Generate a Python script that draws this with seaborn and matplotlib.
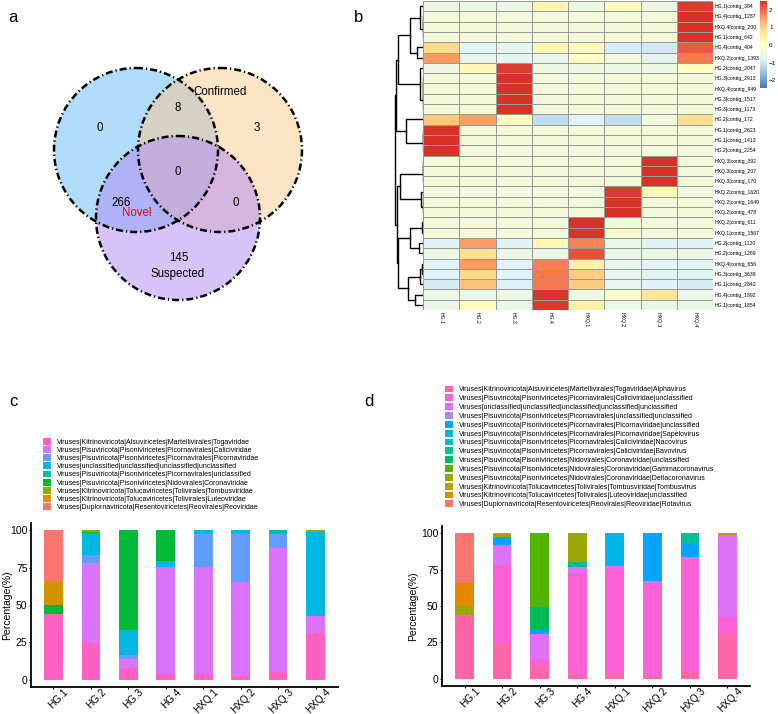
import matplotlib
matplotlib.use("Agg")
import numpy as np
import pandas as pd
import matplotlib.pyplot as plt
import matplotlib.transforms as mtrans
import seaborn as sns
from matplotlib.patches import Circle, Patch
from matplotlib.colors import LinearSegmentedColormap

plt.rcParams['font.family'] = ['Liberation Sans', 'DejaVu Sans']

W, H = 778, 714

# ---- panel a: venn counts ----
venn_counts = [0, 8, 3, 0, 266, 0, 145]
venn_pos = [(100, 128), (178, 108), (257, 128), (178, 172), (121, 203), (236, 203), (179, 258)]
venn_sets = ['', 'Confirmed', '', 'Novel', 'Suspected']

# ---- panel b: heatmap (row z-scores) ----
hm_cols = ['HG.1', 'HG.2', 'HG.3', 'HG.4', 'HXQ.1', 'HXQ.2', 'HXQ.3', 'HXQ.4']
hm_rows = ['HG.1|contig_384', 'HG.4|contig_1287', 'HXQ.4|contig_200', 'HG.1|contig_642',
           'HG.4|contig_404', 'HXQ.2|contig_1393', 'HG.2|contig_2047', 'HG.3|contig_2913',
           'HXQ.4|contig_949', 'HG.3|contig_1517', 'HG.3|contig_1173', 'HG.2|contig_172',
           'HG.1|contig_2623', 'HG.1|contig_1413', 'HG.2|contig_2254', 'HXQ.3|contig_392',
           'HXQ.3|contig_207', 'HXQ.3|contig_170', 'HXQ.2|contig_1620', 'HXQ.2|contig_1649',
           'HXQ.2|contig_478', 'HXQ.2|contig_611', 'HXQ.1|contig_1567', 'HG.2|contig_1120',
           'HG.2|contig_1269', 'HXQ.4|contig_656', 'HG.3|contig_3639', 'HG.1|contig_2842',
           'HG.4|contig_1892', 'HG.1|contig_1854']
hm_values = [
    [-0.5, -0.5, -0.5, 0.35, -0.45, 0.1, -0.5, 2.4],
    [-0.35, -0.35, -0.35, -0.35, -0.35, -0.35, -0.35, 2.47],
    [-0.35, -0.35, -0.35, -0.35, -0.35, -0.35, -0.35, 2.47],
    [-0.35, -0.35, -0.35, -0.35, -0.35, -0.35, -0.35, 2.47],
    [0.9, -0.75, -0.7, 0.3, 0.1, -0.9, -0.95, 2.1],
    [1.55, -0.6, -0.7, -0.6, 0.0, -0.4, -0.7, 1.85],
    [-0.5, 0.25, 2.4, -0.45, -0.45, -0.45, -0.45, 0.05],
    [-0.35, -0.35, 2.47, -0.35, -0.35, -0.35, -0.35, -0.35],
    [-0.35, -0.35, 2.47, -0.35, -0.35, -0.35, -0.35, -0.35],
    [-0.35, -0.35, 2.47, -0.35, -0.35, -0.35, -0.35, -0.35],
    [-0.35, -0.35, 2.47, -0.35, -0.35, -0.35, -0.35, -0.35],
    [1.1, 1.5, 0.05, -1.15, -0.8, -1.1, -0.4, 0.8],
    [2.47, -0.35, -0.35, -0.35, -0.35, -0.35, -0.35, -0.35],
    [2.47, -0.35, -0.35, -0.35, -0.35, -0.35, -0.35, -0.35],
    [2.47, -0.35, -0.35, -0.35, -0.35, -0.35, -0.35, -0.35],
    [-0.35, -0.35, -0.35, -0.35, -0.35, -0.35, 2.47, -0.35],
    [-0.35, -0.35, -0.35, -0.35, -0.35, -0.35, 2.47, -0.35],
    [-0.35, -0.35, -0.35, -0.35, -0.35, -0.35, 2.47, -0.35],
    [-0.4, -0.4, -0.4, -0.4, -0.4, 2.4, 0.15, -0.4],
    [-0.35, -0.35, -0.35, -0.35, -0.35, 2.47, -0.35, -0.35],
    [-0.35, -0.35, -0.35, -0.35, -0.35, 2.47, -0.35, -0.35],
    [-0.35, -0.35, -0.35, -0.35, 2.47, -0.35, -0.35, -0.35],
    [-0.35, -0.35, -0.35, -0.35, 2.45, -0.15, -0.35, -0.35],
    [-0.75, 1.5, -0.75, 0.25, 1.75, -0.5, -0.8, -0.8],
    [-0.5, 0.85, -0.5, -0.5, 2.2, -0.5, -0.5, -0.5],
    [-0.8, 1.55, -0.8, 1.8, 0.4, -0.65, -0.75, -0.75],
    [-0.8, 0.9, -0.8, 1.85, 1.05, -0.6, -0.75, -0.75],
    [-0.9, 1.15, -0.85, 1.85, 1.05, -0.65, -0.8, -0.9],
    [-0.5, -0.5, -0.5, 2.45, -0.45, -0.2, 0.7, -0.5],
    [-0.55, 0.05, -0.55, 2.4, 0.4, -0.5, -0.55, -0.55],
]
# row dendrogram: (left, right, height), leaves are row indices
row_tree = (
    ((((0, ((1, 2, 1), 3, 1), 10), (4, 5, 18), 40),
      (6, (((7, 8, 1), 9, 1), 10, 1), 10), 75),
     (11, ((12, 13, 1), 14, 1), 50), 80),
    ((((15, 16, 1), 17, 1), (18, (19, 20, 1), 5), 70),
     (((21, 22, 2), (23, 24, 12), 38),
      (((25, 26, 2), 27, 8), (28, 29, 25), 45), 75), 78),
    85)

# ---- panels c and d: composition ----
samples = ['HG.1', 'HG.2', 'HG.3', 'HG.4', 'HXQ.1', 'HXQ.2', 'HXQ.3', 'HXQ.4']

c_taxa = ['Viruses|Kitrinoviricota|Alsuviricetes|Martellivirales|Togaviridae',
          'Viruses|Pisuviricota|Pisoniviricetes|Picornavirales|Caliciviridae',
          'Viruses|Pisuviricota|Pisoniviricetes|Picornavirales|Picornaviridae',
          'Viruses|unclassified|unclassified|unclassified|unclassified',
          'Viruses|Pisuviricota|Pisoniviricetes|Picornavirales|unclassified',
          'Viruses|Pisuviricota|Pisoniviricetes|Nidovirales|Coronaviridae',
          'Viruses|Kitrinoviricota|Tolucaviricetes|Tolivirales|Tombusviridae',
          'Viruses|Kitrinoviricota|Tolucaviricetes|Tolivirales|Luteoviridae',
          'Viruses|Duplornaviricota|Resentoviricetes|Reovirales|Reoviridae']
c_pct = [
    [44, 24.5, 8, 3.5, 4, 2.5, 5, 31],
    [0, 53.8, 6, 72, 71.5, 63, 83.5, 11.5],
    [0, 5.5, 2.5, 0, 22, 32, 9, 0],
    [0, 14.2, 17, 4, 2.5, 2.5, 0, 56.3],
    [0, 0, 0, 0, 0, 0, 2.5, 0],
    [6, 1.0, 66.5, 20.5, 0, 0, 0, 0],
    [0, 1.0, 0, 0, 0, 0, 0, 1.2],
    [16, 0, 0, 0, 0, 0, 0, 0],
    [34, 0, 0, 0, 0, 0, 0, 0],
]
c_colors = ['#FF61C3', '#DB72FB', '#619CFF', '#00B9E3', '#00C19F',
            '#00BA38', '#93AA00', '#D39200', '#F8766D']

d_taxa = ['Viruses|Kitrinoviricota|Alsuviricetes|Martellivirales|Togaviridae|Alphavirus',
          'Viruses|Pisuviricota|Pisoniviricetes|Picornavirales|Caliciviridae|unclassified',
          'Viruses|unclassified|unclassified|unclassified|unclassified|unclassified',
          'Viruses|Pisuviricota|Pisoniviricetes|Picornavirales|unclassified|unclassified',
          'Viruses|Pisuviricota|Pisoniviricetes|Picornavirales|Picornaviridae|unclassified',
          'Viruses|Pisuviricota|Pisoniviricetes|Picornavirales|Picornaviridae|Sapelovirus',
          'Viruses|Pisuviricota|Pisoniviricetes|Picornavirales|Caliciviridae|Nacovirus',
          'Viruses|Pisuviricota|Pisoniviricetes|Picornavirales|Caliciviridae|Bavovirus',
          'Viruses|Pisuviricota|Pisoniviricetes|Nidovirales|Coronaviridae|unclassified',
          'Viruses|Pisuviricota|Pisoniviricetes|Nidovirales|Coronaviridae|Gammacoronavirus',
          'Viruses|Pisuviricota|Pisoniviricetes|Nidovirales|Coronaviridae|Deltacoronavirus',
          'Viruses|Kitrinoviricota|Tolucaviricetes|Tolivirales|Tombusviridae|Tombusvirus',
          'Viruses|Kitrinoviricota|Tolucaviricetes|Tolivirales|Luteoviridae|unclassified',
          'Viruses|Duplornaviricota|Resentoviricetes|Reovirales|Reoviridae|Rotavirus']
d_pct = [
    [44, 24.5, 8, 3.5, 4, 2.5, 5, 31],
    [0, 53.7, 5.5, 69.5, 72, 63, 77.6, 11.5],
    [0, 14, 17.5, 4, 1.8, 2, 1.4, 56],
    [0, 0, 0, 0, 0, 0, 0, 0],
    [0, 5.5, 2.5, 0, 0, 32.5, 8.7, 0],
    [0, 0, 0, 0, 22.2, 0, 0, 0],
    [0, 0, 0, 0, 0, 0, 0, 0],
    [0, 0, 0, 3, 0, 0, 7.3, 0],
    [0, 0, 15.5, 0, 0, 0, 0, 0],
    [0, 0, 51, 0, 0, 0, 0, 0],
    [6, 1.3, 0, 20, 0, 0, 0, 0],
    [0, 1.0, 0, 0, 0, 0, 0, 1.5],
    [16, 0, 0, 0, 0, 0, 0, 0],
    [34, 0, 0, 0, 0, 0, 0, 0],
]
d_colors = ['#FF66A8', '#FB61D7', '#DF70F8', '#A58AFF', '#06A4FF', '#00B6EB', '#00BFC4',
            '#00C094', '#00BC56', '#53B400', '#99A800', '#C49A00', '#E38900', '#F8766D']


def px_rect(x0, y0, x1, y1):
    return [x0 / W, 1 - y1 / H, (x1 - x0) / W, (y1 - y0) / H]


fig = plt.figure(figsize=(W / 100, H / 100), dpi=100)

# ---------------- a: venn ----------------
ax_a = fig.add_axes(px_rect(0, 0, 320, 320))
ax_a.set_xlim(0, 320)
ax_a.set_ylim(320, 0)
ax_a.axis('off')
circles = [((136, 150), '#62B9F5'), ((220, 150), '#FBCB91'), ((178, 218), '#B189F7')]
for (cx, cy), col in circles:
    ax_a.add_patch(Circle((cx, cy), 82, facecolor=col, edgecolor='none', alpha=0.5))
for (cx, cy), col in circles:
    ax_a.add_patch(Circle((cx, cy), 82, fill=False, edgecolor='black', lw=1.8,
                          linestyle=(0, (2.8, 1.2, 0.5, 1.2))))
for n, (x, y) in zip(venn_counts, venn_pos):
    ax_a.text(x, y, str(n), ha='center', va='center', fontsize=8.3)
ax_a.text(220, 92, venn_sets[1], ha='center', va='center', fontsize=8.3)
ax_a.text(137, 213, venn_sets[3], ha='center', va='center', fontsize=8.3, color='red')
ax_a.text(178, 274, venn_sets[4], ha='center', va='center', fontsize=8.3)

# ---------------- b: heatmap ----------------
hm = pd.DataFrame(hm_values, index=hm_rows, columns=hm_cols)
cmap = LinearSegmentedColormap.from_list(
    'rdylbu', ['#4575B4', '#91BFDB', '#E0F3F8', '#FFFFBF', '#FEE090', '#FC8D59', '#D73027'])
ax_b = fig.add_axes(px_rect(423, 1, 713, 310))
cax = fig.add_axes(px_rect(760, 1, 767, 88))
sns.heatmap(hm, ax=ax_b, cmap=cmap, vmin=-2.45, vmax=2.5, linewidths=0.7,
            linecolor='#9a9a9a', cbar_ax=cax, xticklabels=True, yticklabels=True)
ax_b.yaxis.tick_right()
ax_b.set_yticklabels(hm_rows, rotation=0, fontsize=3.7)
ax_b.set_xticklabels(hm_cols, rotation=270, fontsize=3.7, va='top')
ax_b.tick_params(length=0, pad=1.5)
ax_b.set_xlabel('')
ax_b.set_ylabel('')
cbar = ax_b.collections[0].colorbar
cbar.outline.set_visible(False)
cbar.set_ticks([-2, -1, 0, 1, 2])
cbar.ax.tick_params(length=0, labelsize=4.5, pad=1.5)

ax_dn = fig.add_axes(px_rect(393, 1, 423, 310))
ax_dn.set_xlim(90, 0)
ax_dn.set_ylim(len(hm_rows), 0)
ax_dn.axis('off')


def draw_tree(ax, node):
    if isinstance(node, int):
        return node + 0.5, 0.0
    left, right, h = node
    yl, hl = draw_tree(ax, left)
    yr, hr = draw_tree(ax, right)
    ax.plot([hl, h, h, hr], [yl, yl, yr, yr], color='black', lw=1.0)
    return (yl + yr) / 2, h


draw_tree(ax_dn, row_tree)


# ---------------- c / d: stacked bars ----------------
def stacked(ax, taxa, pct, colors):
    rows = []
    for t, vals in zip(taxa, pct):
        for s, v in zip(samples, vals):
            rows.append((s, t, v))
    df = pd.DataFrame(rows, columns=['sample', 'taxon', 'pct'])
    sns.histplot(data=df, x='sample', hue='taxon', weights='pct', multiple='stack',
                 discrete=True, shrink=0.5, hue_order=taxa[::-1],
                 palette=dict(zip(taxa, colors)), alpha=1, linewidth=0,
                 legend=False, ax=ax)
    ax.set_xlim(-0.6, 7.6)
    ax.set_ylim(-5, 105)
    ax.set_yticks([0, 25, 50, 75, 100])
    ax.set_ylabel('Percentage(%)', fontsize=7.5, labelpad=2)
    ax.set_xlabel('')
    for sp in ['top', 'right']:
        ax.spines[sp].set_visible(False)
    for sp in ['left', 'bottom']:
        ax.spines[sp].set_linewidth(1.3)
    ax.tick_params(direction='out', length=1.5, width=0.8, labelsize=7.5, pad=1)
    ax.set_xticks(range(len(samples)))
    ax.set_xticklabels(samples, rotation=45, ha='right', va='top',
                       rotation_mode='anchor', fontsize=7.2)
    shift = mtrans.ScaledTranslation(10 / 100, 4 / 100, fig.dpi_scale_trans)
    for lab in ax.get_xticklabels():
        lab.set_transform(lab.get_transform() + shift)


ax_c = fig.add_axes(px_rect(31, 523, 338, 687))
stacked(ax_c, c_taxa, c_pct, c_colors)
# keep the left label inside the canvas
ax_c.yaxis.set_label_coords((12 - 31) / 307, 0.5)
ax_d = fig.add_axes(px_rect(442, 526, 750, 686))
stacked(ax_d, d_taxa, d_pct, d_colors)

fig.legend([Patch(facecolor=c, edgecolor='none') for c in c_colors], c_taxa,
           loc='upper left', bbox_to_anchor=(43 / W, 1 - 438 / H), frameon=False,
           fontsize=5, handlelength=1.15, handleheight=1.15, labelspacing=0.05,
           handletextpad=0.8, borderpad=0, borderaxespad=0)
fig.legend([Patch(facecolor=c, edgecolor='none') for c in d_colors], d_taxa,
           loc='upper left', bbox_to_anchor=(445 / W, 1 - 385.5 / H), frameon=False,
           fontsize=5, handlelength=1.15, handleheight=1.15, labelspacing=0.15,
           handletextpad=0.8, borderpad=0, borderaxespad=0)

# panel letters
for letter, (x, y) in zip('abcd', [(13, 17), (359, 17), (13, 402), (369, 402)]):
    fig.text(x / W, 1 - y / H, letter, fontsize=12, ha='center', va='center')

fig.savefig('out.png', dpi=100)
